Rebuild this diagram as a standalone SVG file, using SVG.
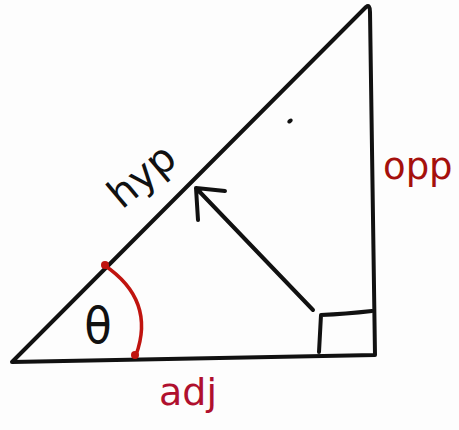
<svg xmlns="http://www.w3.org/2000/svg" width="459" height="430" viewBox="0 0 459 430">
<style>
.ln{fill:none;stroke:#111;stroke-width:4;stroke-linecap:round;stroke-linejoin:round}
.red{fill:none;stroke:#c0140f;stroke-width:3.5;stroke-linecap:round}
.t{font-family:"DejaVu Sans","Liberation Sans",sans-serif}
</style>
<rect width="459" height="430" fill="#fdfdfd"/>
<g id="triangle">
<path class="ln" d="M12,362 L366,7 Q370,4 370,12 L375,355 L12,362 Z"/>
</g>
<g id="right-angle">
<path class="ln" d="M319,352 L321,315 Q345,314 372,311"/>
</g>
<g id="connectors">
<path class="ln" d="M313,310 L196,188 M196,188 L225,191 M196,188 L198,220"/>
</g>
<g id="angle-arc">
<path class="red" d="M104,265 Q156,300 136,355"/>
<circle cx="105" cy="265" r="4" fill="#c0140f"/>
<circle cx="135" cy="355" r="4" fill="#c0140f"/>
</g>
<g id="theta">
<text class="t" x="98" y="343" font-size="50" fill="#111" text-anchor="middle" transform="translate(98 0) scale(0.9 1) translate(-98 0)">θ</text>
</g>
<g id="hyp">
<text class="t" x="122" y="210" font-size="40" fill="#111" transform="rotate(-40 122 210)">hyp</text>
</g>
<g id="opp">
<text class="t" x="383" y="179" font-size="37" fill="#a5100c">opp</text>
</g>
<g id="adj">
<text class="t" x="159" y="405" font-size="38" fill="#b0102e">adj</text>
</g>
<g id="dot">
<ellipse cx="290" cy="121" rx="3" ry="2" fill="#111" transform="rotate(-35 290 121)"/>
</g>
</svg>
